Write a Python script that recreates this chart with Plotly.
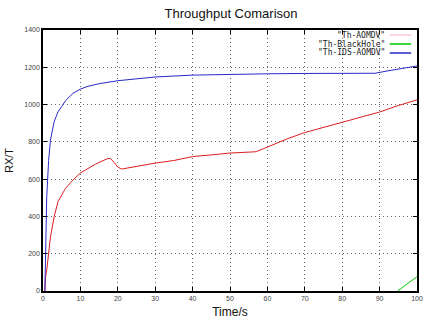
import plotly.graph_objects as go

# ---- data ----
t_ids = [0.5, 0.7, 1, 1.5, 2, 3, 4, 5, 6, 8, 10, 12, 15, 20, 25, 30, 40, 50, 60, 70, 80, 88.8, 92, 96, 100]
v_ids = [0, 300, 506, 700, 810, 910, 960, 990, 1020, 1060, 1083, 1098, 1112, 1128, 1140, 1148, 1158, 1163, 1165, 1167, 1168, 1168, 1180, 1195, 1207]

t_aomdv = [0.5, 0.7, 1, 1.5, 2, 3, 4, 6, 8, 10, 12, 14, 17, 18, 19, 20, 21, 25, 30, 35, 40, 45, 50, 57, 62.8, 65.4, 70, 75, 82.4, 90, 95, 100]
v_aomdv = [0, 80, 112, 200, 291, 400, 479, 550, 595, 633, 655, 680, 708, 712, 690, 665, 654, 670, 686, 700, 721, 730, 740, 747, 796, 817, 850, 878, 917, 960, 995, 1025]

t_bh = [94.8, 100]
v_bh = [0, 77]

names = ['"Th-AOMDV"', '"Th-BlackHole"', '"Th-IDS-AOMDV"']
legend_colors = ["rgb(255,200,210)", "rgb(0,200,0)", "rgb(40,40,200)"]

W, H = 432, 326
L, R, T, B = 39, 423, 30, 291

fig = go.Figure()
fig.add_trace(go.Scatter(x=t_bh, y=v_bh, mode="lines", name=names[1],
                         line=dict(color="rgb(0,200,0)", width=1)))
fig.add_trace(go.Scatter(x=t_aomdv, y=v_aomdv, mode="lines", name=names[0],
                         line=dict(color="rgb(220,30,30)", width=1)))
fig.add_trace(go.Scatter(x=t_ids, y=v_ids, mode="lines", name=names[2],
                         line=dict(color="rgb(40,40,200)", width=1)))

def px(xx):
    return (xx - L) / (R - L)

def py(yy):
    return (B - yy) / (B - T)

# gnuplot-style legend (text right-aligned, sample line at right)
rows_y = [35, 44, 53]
for nm, col, yy in zip(names, legend_colors, rows_y):
    fig.add_annotation(x=px(392), y=py(yy), xref="paper", yref="paper",
                       text=nm, showarrow=False, xanchor="right", yanchor="middle",
                       font=dict(family="DejaVu Sans Mono", size=8, color="#222"))
    fig.add_shape(type="line", xref="paper", yref="paper",
                  x0=px(395), x1=px(417), y0=py(yy), y1=py(yy),
                  line=dict(color=col, width=1.5))

axis_common = dict(
    showline=True, linecolor="black", linewidth=1.5, mirror="ticks",
    ticks="inside", ticklen=4, tickcolor="black",
    showgrid=True, gridcolor="#666", griddash="1px,3px", gridwidth=1,
    zeroline=False, layer="above traces",
    tickfont=dict(family="Liberation Sans", size=7, color="#444"),
)

fig.update_layout(
    width=W, height=H,
    margin=dict(l=L, r=W - R, t=T, b=H - B),
    paper_bgcolor="white", plot_bgcolor="white",
    showlegend=False,
    title=dict(text="Throughput Comarison", x=231 / W, xanchor="center",
               y=1 - 13 / H, yanchor="middle",
               font=dict(family="Liberation Sans", size=13, color="#111")),
    xaxis=dict(range=[0, 100], tickvals=[0, 10, 20, 30, 40, 50, 60, 70, 80, 90, 100],
               title=dict(text="Time/s", standoff=6,
                          font=dict(family="Liberation Sans", size=12, color="#111")),
               **axis_common),
    yaxis=dict(range=[0, 1400], tickvals=[0, 200, 400, 600, 800, 1000, 1200, 1400],
               title=dict(text="RX/T", standoff=8,
                          font=dict(family="Liberation Sans", size=11, color="#111")),
               **axis_common),
)

fig.write_html("out.html")
